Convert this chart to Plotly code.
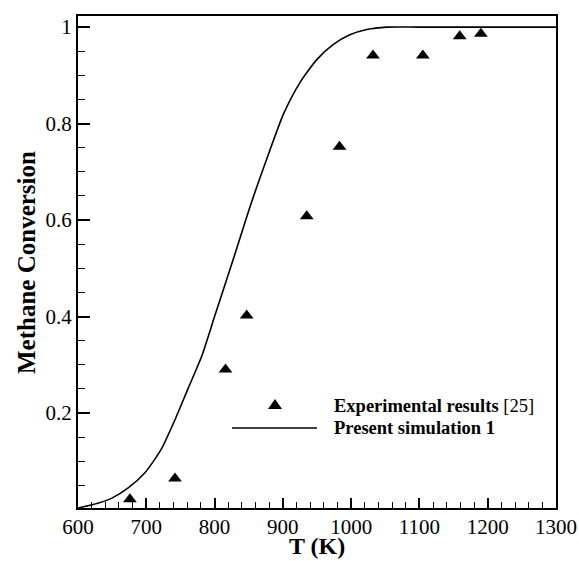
import plotly.graph_objects as go

# Simulation curve (Present simulation 1)
T_sim = [600, 629, 649, 673, 698, 722, 742, 761, 781, 800, 827, 852, 876, 901, 925, 950, 974, 998, 1023, 1052, 1100, 1200, 1300]
X_sim = [0.003, 0.013, 0.023, 0.044, 0.076, 0.125, 0.186, 0.25, 0.317, 0.40, 0.517, 0.628, 0.725, 0.82, 0.885, 0.933, 0.964, 0.984, 0.995, 1.0, 1.0, 1.0, 1.0]

# Experimental results [25]
T_exp = [676, 742, 816, 847, 935, 983, 1032, 1105, 1159, 1190]
X_exp = [0.021, 0.064, 0.29, 0.402, 0.608, 0.752, 0.941, 0.941, 0.981, 0.986]

x_ticks = [600, 700, 800, 900, 1000, 1100, 1200, 1300]
y_ticks = [0.2, 0.4, 0.6, 0.8, 1]
y_ticktext = ["0.2", "0.4", "0.6", "0.8", "1"]
legend_labels = ["Experimental results", "[25]", "Present simulation 1"]
x_title = "T (K)"
y_title = "Methane Conversion"

FONT = "Liberation Serif"
W, H = 579, 561
ML, MR, MT, MB = 78, 23, 16, 53
PW, PH = W - ML - MR, H - MT - MB


def px_to_paper(px, py):
    return (px - ML) / PW, (H - MB - py) / PH


fig = go.Figure()
fig.add_trace(go.Scatter(x=T_sim, y=X_sim, mode="lines",
                         line=dict(color="black", width=1.6, shape="spline", smoothing=0.6),
                         showlegend=False))
fig.add_trace(go.Scatter(x=T_exp, y=X_exp, mode="markers",
                         marker=dict(symbol="triangle-up", size=12, color="black"), showlegend=False))

shapes = []
# legend line sample
lx0, ly = px_to_paper(232, 428)
lx1, _ = px_to_paper(317, 428)
shapes.append(dict(type="line", xref="paper", yref="paper", x0=lx0, x1=lx1, y0=ly, y1=ly,
                   line=dict(color="black", width=1.6)))
# legend triangle symbol
tx, ty = px_to_paper(275, 404)
hw, hh = 7 / PW, 5 / PH
shapes.append(dict(type="path", xref="paper", yref="paper",
                   path=f"M {tx-hw},{ty-hh} L {tx+hw},{ty-hh} L {tx},{ty+hh} Z",
                   fillcolor="black", line=dict(width=0)))

annotations = []
ax, ay = px_to_paper(332, 406)
annotations.append(dict(xref="paper", yref="paper", x=ax, y=ay, xanchor="left", yanchor="middle",
                        text="<b>" + legend_labels[0] + "</b> " + legend_labels[1], showarrow=False,
                        font=dict(family=FONT, size=18.5, color="black")))
ax, ay = px_to_paper(332, 428)
annotations.append(dict(xref="paper", yref="paper", x=ax, y=ay, xanchor="left", yanchor="middle",
                        text="<b>" + legend_labels[2] + "</b>", showarrow=False,
                        font=dict(family=FONT, size=18.5, color="black")))
# axis titles
ax, ay = px_to_paper(317, 560)
annotations.append(dict(xref="paper", yref="paper", x=ax, y=ay, xanchor="center", yanchor="bottom",
                        text="<b>" + x_title + "</b>", showarrow=False, borderpad=0,
                        font=dict(family=FONT, size=24, color="black")))
ax, ay = px_to_paper(26, 263)
annotations.append(dict(xref="paper", yref="paper", x=ax, y=ay, xanchor="center", yanchor="middle",
                        text="<b>" + y_title + "</b>", showarrow=False, textangle=-90,
                        font=dict(family=FONT, size=25, color="black")))

fig.update_layout(
    width=W, height=H,
    margin=dict(l=ML, r=MR, t=MT, b=MB, pad=0, autoexpand=False),
    paper_bgcolor="white", plot_bgcolor="white",
    font=dict(family=FONT, color="black"),
    shapes=shapes, annotations=annotations,
)
fig.update_xaxes(range=[600, 1300], tickvals=x_ticks, ticks="inside", ticklen=10, tickwidth=1.5,
                 tickcolor="black", showgrid=False, zeroline=False, automargin=False,
                 showline=True, linecolor="black", linewidth=2, mirror=True,
                 tickfont=dict(family=FONT, size=21, color="black"), ticklabelstandoff=-1,
                 minor=dict(dtick=20, ticks="inside", ticklen=6, tickwidth=1.2, tickcolor="black"))
fig.update_yaxes(range=[0.003, 1.023], tickvals=y_ticks, ticktext=y_ticktext,
                 ticks="inside", ticklen=12, tickwidth=1.5,
                 tickcolor="black", showgrid=False, zeroline=False, automargin=False,
                 showline=True, linecolor="black", linewidth=2, mirror=True,
                 tickfont=dict(family=FONT, size=21, color="black"),
                 minor=dict(dtick=0.05, tick0=0, ticks="inside", ticklen=7, tickwidth=1.2, tickcolor="black"))

fig.write_html("out.html", config={"displayModeBar": False},
               post_script="document.body.style.margin='0';document.body.style.overflow='hidden';")
